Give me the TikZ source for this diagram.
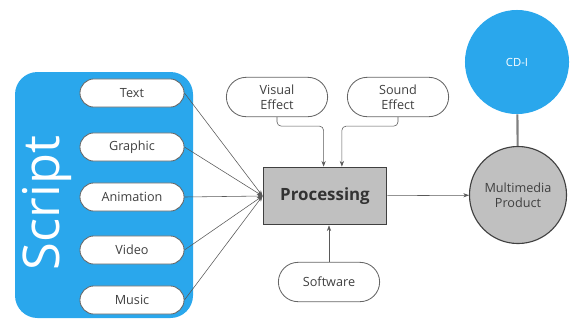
\documentclass[tikz,border=0pt]{standalone}
\usepackage{fontspec}
\setmainfont{Open Sans}
\usetikzlibrary{arrows.meta}
\definecolor{scriptblue}{RGB}{42,167,236}
\definecolor{boxgray}{RGB}{192,192,192}
\tikzset{
	pill/.style={draw=black!60, semithick, fill=white, rounded corners=10pt, minimum width=74pt, minimum height=20pt, inner sep=1pt, font=\fontsize{9}{10}\selectfont, text=black!75},
	bigpill/.style={pill, rounded corners=14pt, minimum width=72pt, minimum height=28pt, align=center, font=\fontsize{9}{10.5}\selectfont},
	feed/.style={black!65, -{Stealth[length=4pt,width=3pt]}},
}
\begin{document}
\begin{tikzpicture}[x=0.025cm,y=-0.025cm]
	\useasboundingbox (0,0) rectangle (571,325);
	% script panel
	\fill[scriptblue,rounded corners=16pt] (15,72) rectangle (193,318);
	\node[rotate=90,text=white,font=\fontsize{36}{36}\selectfont] (scr) at (47,203) {Script};
	\node[pill] (txt) at (132,93) {Text};
	\node[pill] (gra) at (132,147) {Graphic};
	\node[pill] (ani) at (132,197) {Animation};
	\node[pill] (vid) at (132,250) {Video};
	\node[pill] (mus) at (132,300) {Music};
	% centre
	\node[draw=black!75,thick,fill=boxgray,minimum width=88pt,minimum height=41pt,font=\bfseries\fontsize{12}{14}\selectfont,text=black!80] (proc) at (325,196) {Processing};
	\node[bigpill] (vis) at (277,97) {Visual\\Effect};
	\node[bigpill] (snd) at (398,97) {Sound\\Effect};
	\node[bigpill] (soft) at (329,282) {Software};
	% right
	\node[circle,draw=black!75,thick,fill=boxgray,minimum size=69pt,align=center,font=\fontsize{9}{10.5}\selectfont,text=black!75] (mp) at (518,195) {Multimedia\\Product};
	\node[circle,fill=scriptblue,minimum size=74pt,text=white,font=\fontsize{8}{9}\selectfont] (cdi) at (517,62) {CD-I};
	\draw[gray,line width=1.5pt] (cdi) -- (mp);
	\foreach \n in {txt,gra,ani,vid,mus}
		\draw[feed] (\n.east) -- (proc.west);
	\draw[feed,rounded corners=3pt] (vis.south) -- ++(0,9) -| ([xshift=-1pt]proc.north);
	\draw[feed,rounded corners=3pt] (snd.south) -- ++(0,9) -| ([xshift=12pt]proc.north);
	\draw[feed] (soft.north) -- (soft.north |- proc.south);
	\draw[feed] (proc) -- (mp);
\end{tikzpicture}
\end{document}
